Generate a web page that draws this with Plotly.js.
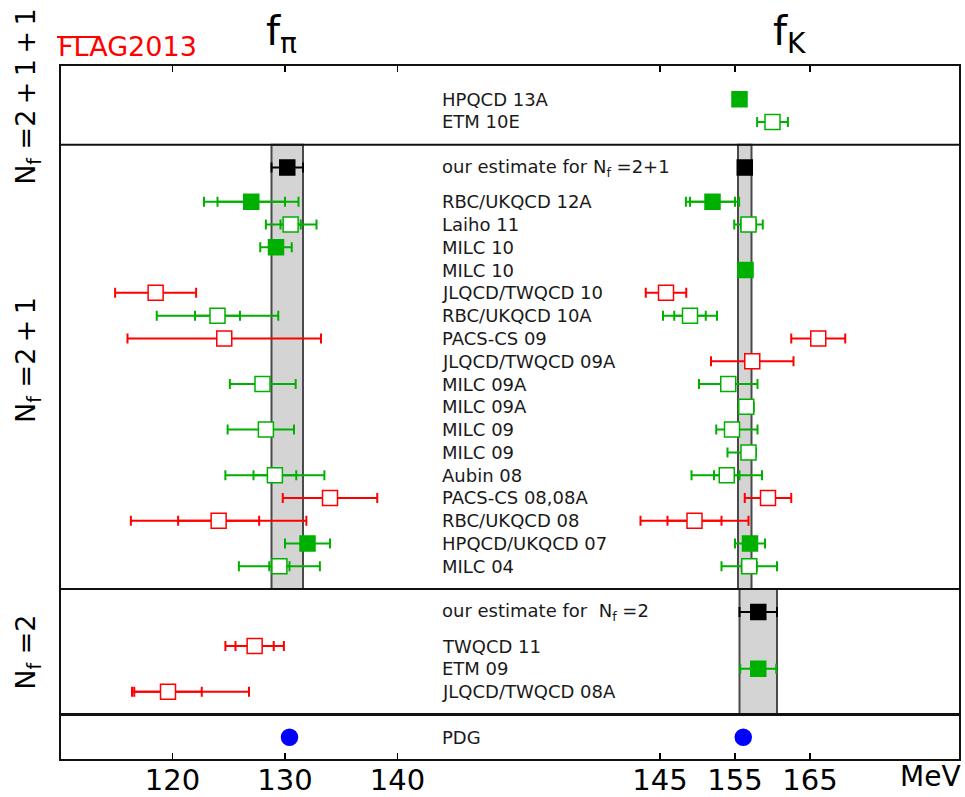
<!DOCTYPE html>
<html>
<head>
<meta charset="utf-8">
<script src="https://cdn.plot.ly/plotly-3.0.1.min.js"></script>
<style>
  html, body { margin: 0; padding: 0; background: #ffffff; }
  #chart { width: 965px; height: 797px; }
</style>
</head>
<body>
<div id="chart"></div>
<script>
// Pion and kaon decay constants (MeV), FLAG 2013 compilation.
// One entry per row, top to bottom; null = no result for that quantity.
const labels = [
  'HPQCD 13A', 'ETM 10E',
  'our estimate for N<sub>f</sub> =2+1',
  'RBC/UKQCD 12A', 'Laiho 11', 'MILC 10', 'MILC 10', 'JLQCD/TWQCD 10',
  'RBC/UKQCD 10A', 'PACS-CS 09', 'JLQCD/TWQCD 09A', 'MILC 09A', 'MILC 09A',
  'MILC 09', 'MILC 09', 'Aubin 08', 'PACS-CS 08,08A', 'RBC/UKQCD 08',
  'HPQCD/UKQCD 07', 'MILC 04',
  'our estimate for \u00a0N<sub>f</sub> =2',
  'TWQCD 11', 'ETM 09', 'JLQCD/TWQCD 08A',
  'PDG'
];

// number of flavours of each row
const nf = [
  '2+1+1', '2+1+1',
  '2+1', '2+1', '2+1', '2+1', '2+1', '2+1', '2+1', '2+1', '2+1', '2+1',
  '2+1', '2+1', '2+1', '2+1', '2+1', '2+1', '2+1', '2+1',
  '2', '2', '2', '2',
  'exp'
];

// A: used in average, B: passes criteria, C: fails a criterion,
// E: FLAG estimate, P: experiment
const status = [
  'A', 'B',
  'E', 'A', 'B', 'A', 'A', 'C', 'B', 'C', 'C', 'B', 'B', 'B', 'B', 'B', 'C', 'C', 'A', 'B',
  'E', 'C', 'A', 'C',
  'P'
];

// f_pi: central value, statistical error, total error (minus / plus)
const fpi = [null, null, 130.2, 127.0, 130.5, 129.2, null, 118.5, 124.0, 124.6, null, 128.0, null,
  128.3, null, 129.1, 134.0, 124.1, 132.0, 129.5, null, 127.3, null, 119.6, 130.4];
const fpiStat = [null, null, null, 3.0, 0.9, 0.4, null, null, 2.0, null, null, 0.3, null,
  0.5, null, 1.9, null, 3.6, null, 0.9, null, 1.7, null, 3.0, null];
const fpiErrMinus = [null, null, 1.4, 4.2, 2.2, 1.4, null, 3.6, 5.4, 8.6, null, 2.9, null,
  3.4, null, 4.4, 4.2, 7.8, 2.0, 3.6, null, 2.6, null, 3.2, 0];
const fpiErrPlus = [null, null, 1.4, 4.2, 2.3, 1.4, null, 3.6, 5.4, 8.6, null, 2.95, null,
  2.5, null, 4.4, 4.2, 7.8, 2.0, 3.6, null, 2.6, null, 7.2, 0];

// f_K: central value, statistical error, total error (minus / plus)
const fk = [155.6, 160.0, 156.3, 152.0, 156.8, null, 156.4, 145.8, 149.0, 166.1, 157.3, 154.1, 156.5,
  154.6, 156.8, 153.9, 159.4, 149.6, 157.0, 156.9, 158.1, null, 158.1, null, 156.1];
const fkStat = [null, null, null, 3.0, 1.0, null, 0.4, null, 2.1, null, null, null, 0.3,
  null, null, 1.7, null, 3.6, null, 1.0, null, null, null, null, null];
const fkErrMinus = [0.35, 2.05, 0.9, 3.55, 1.9, null, 0.9, 2.7, 3.6, 3.6, 5.5, 3.9, 1.0,
  2.1, 2.8, 4.7, 3.1, 7.2, 2.0, 3.7, 2.5, null, 2.4, null, 0];
const fkErrPlus = [0.35, 2.05, 0.9, 3.55, 1.9, null, 0.9, 2.7, 3.6, 3.6, 5.5, 3.9, 1.0,
  3.4, 1.0, 4.7, 3.1, 7.2, 2.0, 3.7, 2.5, null, 2.4, null, 0];

// axis ticks
const fpiTicks = [120, 130, 140];
const fkTicks = [145, 155, 165];

// ---- row layout (in row units, 0 at the top) ----
const rowY = [];
const sections = [];   // {nf, top, bottom}
let cursor = 0;
labels.forEach((lab, i) => {
  if (i === 0 || nf[i] !== nf[i - 1]) {
    if (sections.length) sections[sections.length - 1].bottom = cursor;
    sections.push({ nf: nf[i], top: cursor, bottom: null });
    cursor += (i === 0) ? 1.5 : 1;
  }
  rowY.push(cursor);
  cursor += (status[i] === 'E') ? 1.5 : 1;
});
sections[sections.length - 1].bottom = cursor;
const yMax = cursor;

const GREEN = '#00b000', RED = '#ff0000';
const styles = {
  A: { line: GREEN, fill: GREEN, symbol: 'square', size: 15 },
  B: { line: GREEN, fill: '#ffffff', symbol: 'square', size: 15 },
  C: { line: RED, fill: '#ffffff', symbol: 'square', size: 15 },
  E: { line: '#000000', fill: '#000000', symbol: 'square', size: 15 },
  P: { line: '#0000ff', fill: '#0000ff', symbol: 'circle', size: 16 }
};

const traces = [];
function addSeries(axis, val, stat, eMinus, ePlus) {
  // statistical errors (inner caps) first, then total errors with markers on top
  Object.keys(styles).forEach(code => {
    const st = styles[code];
    const idx = val.map((v, i) => i).filter(i => val[i] !== null && status[i] === code);
    if (!idx.length) return;
    const sIdx = idx.filter(i => stat[i] !== null);
    if (sIdx.length) {
      traces.push({
        type: 'scatter', mode: 'markers', xaxis: axis, yaxis: 'y',
        x: sIdx.map(i => val[i]), y: sIdx.map(i => rowY[i]),
        marker: { size: 1, color: 'rgba(0,0,0,0)' },
        error_x: { type: 'data', symmetric: true, array: sIdx.map(i => stat[i]),
          color: st.line, thickness: 2, width: 5 },
        hoverinfo: 'skip', showlegend: false
      });
    }
    traces.push({
      type: 'scatter', mode: 'markers', xaxis: axis, yaxis: 'y',
      x: idx.map(i => val[i]), y: idx.map(i => rowY[i]),
      text: idx.map(i => labels[i]),
      marker: { symbol: st.symbol, size: st.size, color: st.fill,
        line: { color: st.line, width: 1.5 } },
      error_x: { type: 'data', symmetric: false,
        array: idx.map(i => ePlus[i]), arrayminus: idx.map(i => eMinus[i]),
        color: st.line, thickness: 2, width: 5 },
      showlegend: false
    });
  });
}
addSeries('x', fpi, fpiStat, fpiErrMinus, fpiErrPlus);
addSeries('x2', fk, fkStat, fkErrMinus, fkErrPlus);

// ---- shapes: estimate bands, section separators, frame ----
const shapes = [];
sections.forEach(sec => {
  labels.forEach((lab, i) => {
    if (nf[i] !== sec.nf || status[i] !== 'E') return;
    [['x', fpi, fpiErrPlus], ['x2', fk, fkErrPlus]].forEach(([ax, v, e]) => {
      if (v[i] === null) return;
      shapes.push({ type: 'rect', xref: ax, yref: 'y', layer: 'below',
        x0: v[i] - e[i], x1: v[i] + e[i], y0: sec.top, y1: sec.bottom,
        fillcolor: '#d4d4d4', line: { color: '#4a4a4a', width: 2 } });
    });
  });
});
sections.slice(0, -1).forEach((sec, k) => {
  shapes.push({ type: 'line', xref: 'paper', yref: 'y', x0: 0, x1: 1,
    y0: sec.bottom, y1: sec.bottom,
    line: { color: '#111', width: k === sections.length - 2 ? 3 : 2 } });
});
shapes.push({ type: 'rect', xref: 'paper', yref: 'paper', x0: 0, x1: 1, y0: 0, y1: 1,
  line: { color: '#111', width: 2 } });
// overline of the FLAG logo
shapes.push({ type: 'line', xref: 'paper', yref: 'paper',
  x0: -0.0033, x1: 0.0444, y0: 1.0403, y1: 1.0403, line: { color: RED, width: 2 } });

// ---- annotations ----
const FONT = 'DejaVu Sans, Verdana, sans-serif';
const annotations = [];
labels.forEach((lab, i) => {
  annotations.push({ xref: 'paper', yref: 'y', x: 0.4222, y: rowY[i],
    xanchor: 'left', yanchor: 'middle', showarrow: false, text: lab,
    font: { family: FONT, size: 18, color: '#1a1a1a' } });
});
const nfText = {
  '2+1+1': { text: 'N<sub>f</sub> =2\u2009+\u20091\u2009+\u20091', shift: 8 },
  '2+1': { text: 'N<sub>f</sub> =2\u2009+\u20091', shift: 7 },
  '2': { text: 'N<sub>f</sub> =2', shift: 0 }
};
sections.forEach(sec => {
  const lab = nfText[sec.nf];
  if (!lab) return;
  annotations.push({ xref: 'paper', yref: 'y', x: -0.0356, y: (sec.top + sec.bottom) / 2,
    yshift: lab.shift, xanchor: 'center', yanchor: 'middle', textangle: -90, showarrow: false,
    text: lab.text, font: { family: FONT, size: 27, color: '#000' } });
});
annotations.push(
  { xref: 'paper', yref: 'paper', x: 0.2456, y: 1.045, xanchor: 'center', yanchor: 'middle',
    showarrow: false, text: 'f<sub>\u03c0</sub>', font: { family: FONT, size: 40, color: '#000' } },
  { xref: 'paper', yref: 'paper', x: 0.811, y: 1.045, xanchor: 'center', yanchor: 'middle',
    showarrow: false, text: 'f<sub>K</sub>', font: { family: FONT, size: 40, color: '#000' } },
  { xref: 'paper', yref: 'paper', x: -0.0045, y: 1.027, xanchor: 'left', yanchor: 'middle',
    showarrow: false, text: 'FLAG2013', font: { family: FONT, size: 27, color: RED } },
  { xref: 'paper', yref: 'paper', x: 1.003, y: -0.024, xanchor: 'right', yanchor: 'middle',
    showarrow: false, text: 'MeV', font: { family: FONT, size: 28, color: '#000' } }
);

const axisCommon = {
  showgrid: false, zeroline: false, showline: false,
  ticks: 'inside', ticklen: 7, tickwidth: 1.5, tickcolor: '#000', mirror: 'ticks',
  tickfont: { family: FONT, size: 29, color: '#000' }, anchor: 'y', fixedrange: true
};

const layout = {
  width: 965, height: 797,
  margin: { l: 60, r: 5, t: 65, b: 37 },
  paper_bgcolor: '#ffffff', plot_bgcolor: '#ffffff',
  xaxis: Object.assign({}, axisCommon, { domain: [0, 0.5], range: [110, 150], tickvals: fpiTicks }),
  xaxis2: Object.assign({}, axisCommon, { domain: [0.5, 1], range: [125, 185], tickvals: fkTicks }),
  yaxis: { domain: [0, 1], range: [yMax, 0], visible: false, fixedrange: true },
  shapes: shapes,
  annotations: annotations,
  showlegend: false,
  font: { family: FONT }
};

Plotly.newPlot('chart', traces, layout, { displayModeBar: false, staticPlot: true });
</script>
</body>
</html>
